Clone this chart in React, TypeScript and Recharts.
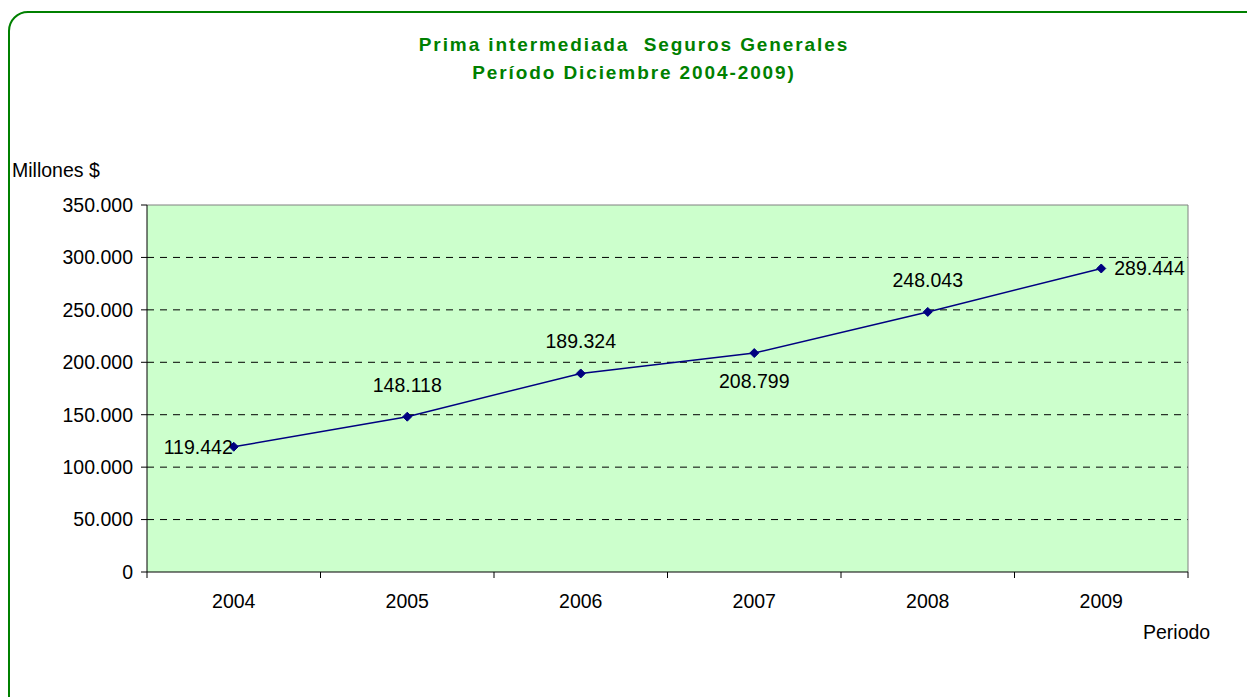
import React from "react";
import { LineChart, Line, XAxis, YAxis, CartesianGrid, LabelList } from "recharts";

const years = ["2004", "2005", "2006", "2007", "2008", "2009"];
const prima = [119442, 148118, 189324, 208799, 248043, 289444];
const yTicks = [0, 50000, 100000, 150000, 200000, 250000, 300000, 350000];
const gridValues = [50000, 100000, 150000, 200000, 250000, 300000];
const labelPlacement = ["left", "top", "top", "bottom", "top", "right"];

const W = 1247;
const H = 697;
const M = { top: 205, right: 59, left: 0, bottom: 95 };
const Y_W = 147;
const X_H = 30;
const PLOT_W = W - M.right - M.left - Y_W;
const PLOT_BOTTOM = H - M.bottom - X_H;
const BAND = PLOT_W / years.length;

const FONT = "Arial, 'Liberation Sans', sans-serif";
const FS = 19.5;
const GREEN = "#008000";
const NAVY = "#000080";

const data = years.map((year, i) => ({ year, value: prima[i] }));

const fmt = (v: number) => (v === 0 ? "0" : v.toLocaleString("de-DE"));

function YearTick(props: any) {
  const { x, payload, index } = props;
  const left = x - BAND / 2;
  return (
    <g>
      <line x1={left} y1={PLOT_BOTTOM} x2={left} y2={PLOT_BOTTOM + 6} stroke="#000" />
      {index === years.length - 1 && (
        <line x1={x + BAND / 2} y1={PLOT_BOTTOM} x2={x + BAND / 2} y2={PLOT_BOTTOM + 6} stroke="#000" />
      )}
      <text x={x} y={PLOT_BOTTOM + 36} textAnchor="middle" fontSize={FS} fontFamily={FONT} fill="#000">
        {payload.value}
      </text>
    </g>
  );
}

function Diamond(props: any) {
  const { cx, cy } = props;
  if (cx == null || cy == null) return null;
  const r = 4.5;
  return (
    <polygon
      points={`${cx},${cy - r} ${cx + r},${cy} ${cx},${cy + r} ${cx - r},${cy}`}
      fill={NAVY}
      stroke={NAVY}
    />
  );
}

function ValueLabel(props: any) {
  const { x, y, value, index } = props;
  const place = labelPlacement[index];
  let tx = x;
  let ty = y;
  let anchor = "middle";
  if (place === "left") {
    tx = x - 1;
    anchor = "end";
  } else if (place === "right") {
    tx = x + 13;
    anchor = "start";
  } else if (place === "top") {
    ty = y - 32;
  } else {
    ty = y + 28;
  }
  return (
    <text x={tx} y={ty} dy="0.35em" textAnchor={anchor} fontSize={FS} fontFamily={FONT} fill="#000">
      {fmt(value)}
    </text>
  );
}

export default function App() {
  return (
    <div style={{ position: "fixed", left: 0, top: 0, width: W, height: H, overflow: "hidden", background: "#fff", fontFamily: FONT }}>
      <div
        style={{
          position: "absolute",
          left: 8,
          top: 11,
          width: 1260,
          height: 720,
          border: `2px solid ${GREEN}`,
          borderRadius: 20,
        }}
      />
      <div
        style={{
          position: "absolute",
          left: 0,
          width: 1268,
          top: 31,
          textAlign: "center",
          color: GREEN,
          fontWeight: "bold",
          fontSize: 19,
          lineHeight: "28px",
          letterSpacing: 1.9,
        }}
      >
        <div>Prima intermediada&nbsp; Seguros Generales</div>
        <div>Período Diciembre 2004-2009)</div>
      </div>
      <div style={{ position: "absolute", left: 12, top: 159, fontSize: FS, lineHeight: "22px", color: "#000" }}>Millones $</div>
      <div style={{ position: "absolute", left: 1143, top: 621, fontSize: FS, lineHeight: "22px", color: "#000" }}>Periodo</div>
      <div style={{ position: "absolute", left: 0, top: 0 }}>
        <LineChart width={W} height={H} data={data} margin={M}>
          <CartesianGrid
            vertical={false}
            horizontalValues={gridValues}
            stroke="#000"
            strokeDasharray="7 6"
            fill="#CCFFCC"
            fillOpacity={1}
          />
          {/* plot frame: top and right edges in grey */}
          <CartesianGrid
            horizontalValues={[350000]}
            verticalCoordinatesGenerator={({ offset }: any) => [offset.left + offset.width]}
            stroke="#808080"
            fill="none"
          />
          <XAxis
            dataKey="year"
            height={X_H}
            padding={{ left: BAND / 2, right: BAND / 2 }}
            axisLine={{ stroke: "#000" }}
            tickLine={false}
            tick={<YearTick />}
            interval={0}
          />
          <YAxis
            width={Y_W}
            domain={[0, 350000]}
            ticks={yTicks}
            tickFormatter={fmt}
            interval={0}
            axisLine={{ stroke: "#000" }}
            tickLine={{ stroke: "#000" }}
            tickSize={6}
            tickMargin={8}
            tick={{ fontSize: FS, fontFamily: FONT, fill: "#000" }}
          />
          <Line
            dataKey="value"
            stroke={NAVY}
            strokeWidth={1.5}
            dot={<Diamond />}
            activeDot={false}
            isAnimationActive={false}
          >
            <LabelList dataKey="value" content={<ValueLabel />} />
          </Line>
        </LineChart>
      </div>
    </div>
  );
}
